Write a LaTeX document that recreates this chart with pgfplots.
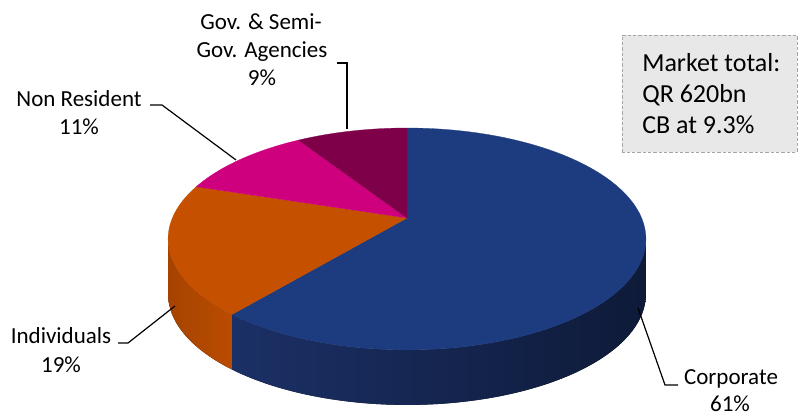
\documentclass[border=0pt]{standalone}
\usepackage{pgfplots}
\pgfplotsset{compat=1.18}
\usepgfplotslibrary{fillbetween}
\usepackage{fontspec}
\setmainfont{Carlito}
\definecolor{corp}{RGB}{29,60,128}
\definecolor{corpL}{RGB}{27,48,102}
\definecolor{corpR}{RGB}{14,26,56}
\definecolor{indv}{RGB}{197,80,0}
\definecolor{indvL}{RGB}{166,67,0}
\definecolor{indvR}{RGB}{186,76,0}
\definecolor{nonres}{RGB}{207,0,126}
\definecolor{gov}{RGB}{125,0,72}
\definecolor{boxfill}{RGB}{232,232,232}
\definecolor{boxdraw}{RGB}{165,165,165}
% shares in percent
\def\vCorp{61}
\def\vInd{19}
\def\vNon{11}
\def\vGov{9}
\begin{document}
\begin{tikzpicture}
\pgfmathsetmacro{\aA}{90-3.6*\vCorp}
\pgfmathsetmacro{\aB}{\aA-3.6*\vInd}
\pgfmathsetmacro{\aC}{\aB-3.6*\vNon}
\pgfmathsetmacro{\aD}{\aC-3.6*\vGov}
\def\lab{\fontsize{17.25}{20}\selectfont}
\def\boxf{\fontsize{19.5}{22}\selectfont}
\begin{axis}[name=ax, width=603pt, height=312pt, scale only axis,
  xmin=0, xmax=804, ymin=0, ymax=416, hide axis, clip=false,
  declare function={ss(\t)=1/(1+0.189*sin(\t));
    sx(\t)=407+234.6*cos(\t)*ss(\t);
    sy(\t)=198+107*sin(\t)*ss(\t);
    by(\t)=sy(\t)-55;}]
% sides
\addplot[name path=ct, draw=none, domain=\aA:-10.894, samples=90] ({sx(x)},{sy(x)});
\addplot[name path=cb, draw=none, domain=\aA:-10.894, samples=90] ({sx(x)},{by(x)});
\addplot[left color=corpL, right color=corpR, draw=none] fill between[of=ct and cb];
\addplot[name path=it, draw=none, domain=-169.106:\aA, samples=40] ({sx(x)},{sy(x)});
\addplot[name path=ib, draw=none, domain=-169.106:\aA, samples=40] ({sx(x)},{by(x)});
\addplot[left color=indvL, right color=indvR, draw=none] fill between[of=it and ib];
% top face
\addplot[fill=corp, draw=corp, line width=0.2pt, domain=\aA:90, samples=150] ({sx(x)},{sy(x)}) -- (axis cs:407,198) -- cycle;
\addplot[fill=indv, draw=indv, line width=0.2pt, domain=\aB:\aA, samples=60] ({sx(x)},{sy(x)}) -- (axis cs:407,198) -- cycle;
\addplot[fill=nonres, draw=nonres, line width=0.2pt, domain=\aC:\aB, samples=40] ({sx(x)},{sy(x)}) -- (axis cs:407,198) -- cycle;
\addplot[fill=gov, draw=gov, line width=0.2pt, domain=\aD:\aC, samples=40] ({sx(x)},{sy(x)}) -- (axis cs:407,198) -- cycle;
% leader lines
\draw[black, line width=0.9pt] (axis cs:337,353) -- (axis cs:347,353) -- (axis cs:347,287);
\draw[black, line width=0.9pt] (axis cs:150,311) -- (axis cs:162,311) -- (axis cs:236,256);
\draw[black, line width=0.9pt] (axis cs:118,73) -- (axis cs:128,73) -- (axis cs:175,110);
\draw[black, line width=0.9pt] (axis cs:678,31) -- (axis cs:665,31) -- (axis cs:638,108);
% labels
\node[anchor=base, inner sep=0] at (axis cs:261,386) {\lab Gov. \& Semi-};
\node[anchor=base, inner sep=0] at (axis cs:262,358) {\lab Gov. Agencies};
\node[anchor=base, inner sep=0] at (axis cs:262,330) {\lab 9\%};
\node[anchor=base, inner sep=0] at (axis cs:79,309) {\lab Non Resident};
\node[anchor=base, inner sep=0] at (axis cs:79,281) {\lab 11\%};
\node[anchor=base, inner sep=0] at (axis cs:61,72) {\lab Individuals};
\node[anchor=base, inner sep=0] at (axis cs:61,43) {\lab 19\%};
\node[anchor=base, inner sep=0] at (axis cs:731,31) {\lab Corporate};
\node[anchor=base, inner sep=0] at (axis cs:730,4) {\lab 61\%};
% text box
\draw[boxdraw, fill=boxfill, line width=0.6pt, dash pattern=on 2.5pt off 1.5pt] (axis cs:622,264) rectangle (axis cs:797,381);
\node[anchor=base west, inner sep=0] at (axis cs:642,344.5) {\boxf Market total:};
\node[anchor=base west, inner sep=0] at (axis cs:642,313) {\boxf QR 620bn};
\node[anchor=base west, inner sep=0] at (axis cs:642,282) {\boxf CB at 9.3\%};
\end{axis}
\pgfresetboundingbox
\path (ax.south west) rectangle (ax.north east);
\end{tikzpicture}
\end{document}
